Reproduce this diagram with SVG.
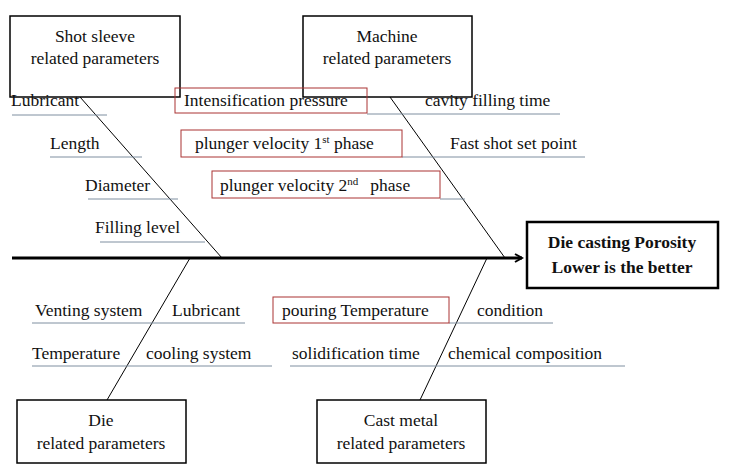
<svg xmlns="http://www.w3.org/2000/svg" width="729" height="475" viewBox="0 0 729 475" font-family="'Liberation Serif', 'DejaVu Serif', serif">
<style>
text{font-family:'Liberation Serif','Times New Roman','DejaVu Serif',serif;font-size:17.5px;fill:#111}
.c{text-anchor:middle}
.box{fill:#fff;stroke:#000;stroke-width:1.5}
.red{fill:none;stroke:#a33;stroke-width:1}
.ul{stroke:#7f8fa0;stroke-width:1}
.sp{stroke:#000;stroke-width:1;fill:none}
</style>
<defs><marker id="ah" markerWidth="10" markerHeight="10" refX="8" refY="5" orient="auto" markerUnits="userSpaceOnUse"><path d="M1,1 L8,5 L1,9" fill="none" stroke="#000" stroke-width="2"/></marker></defs>
<rect width="729" height="475" fill="#fff"/>
<g id="connectors">
<line x1="12" y1="258" x2="522" y2="258" stroke="#000" stroke-width="3" marker-end="url(#ah)"/>
<line class="sp" x1="80" y1="97" x2="222" y2="258"/>
<line class="sp" x1="390" y1="97" x2="505" y2="258"/>
<line class="sp" x1="190" y1="258" x2="107" y2="400"/>
<line class="sp" x1="487" y1="258" x2="420" y2="400"/>
<g class="ul">
<line x1="12" y1="115" x2="107" y2="115"/>
<line x1="50" y1="157" x2="142" y2="157"/>
<line x1="88" y1="199" x2="178" y2="199"/>
<line x1="100" y1="242" x2="205" y2="242"/>
<line x1="367" y1="114" x2="560" y2="114"/>
<line x1="402" y1="157" x2="585" y2="157"/>
<line x1="440" y1="199" x2="465" y2="199"/>
<line x1="32" y1="323" x2="245" y2="323"/>
<line x1="449" y1="323" x2="553" y2="323"/>
<line x1="32" y1="366" x2="272" y2="366"/>
<line x1="290" y1="366" x2="625" y2="366"/>
</g>
</g>
<g id="shot"><rect class="box" x="10" y="16" width="170" height="81"/><text class="c" x="95" y="42">Shot sleeve</text><text class="c" x="95" y="64">related parameters</text></g>
<g id="machine"><rect class="box" x="303" y="16" width="169" height="81"/><text class="c" x="387" y="42">Machine</text><text class="c" x="387" y="64">related parameters</text></g>
<g id="effect"><rect x="527" y="222" width="191" height="66" fill="#fff" stroke="#000" stroke-width="2.5"/><text class="c" x="622" y="248" font-weight="bold">Die casting Porosity</text><text class="c" x="622" y="273" font-weight="bold">Lower is the better</text></g>
<g id="die"><rect class="box" x="17" y="400" width="169" height="63"/><text class="c" x="101" y="426">Die</text><text class="c" x="101" y="449">related parameters</text></g>
<g id="cast"><rect class="box" x="317" y="400" width="169" height="63"/><text class="c" x="401" y="426">Cast metal</text><text class="c" x="401" y="449">related parameters</text></g>
<g id="causes">
<text x="11" y="106">Lubricant</text>
<text x="50" y="149">Length</text>
<text x="85" y="191">Diameter</text>
<text x="95" y="233">Filling level</text>
<rect class="red" x="175" y="88" width="192" height="25"/><text x="184" y="106">Intensification pressure</text>
<rect class="red" x="181" y="130" width="221" height="27"/><text x="195" y="149">plunger velocity 1<tspan font-size="11" dy="-6">st</tspan><tspan dy="6"> phase</tspan></text>
<rect class="red" x="212" y="171" width="228" height="27"/><text x="220" y="191">plunger velocity 2<tspan font-size="11" dy="-6">nd</tspan><tspan dy="6" dx="12">phase</tspan></text>
<text x="425" y="106">cavity filling time</text>
<text x="450" y="149">Fast shot set point</text>
<text x="35" y="316">Venting system</text>
<text x="172" y="316">Lubricant</text>
<rect class="red" x="273" y="297" width="176" height="26"/><text x="282" y="316">pouring Temperature</text>
<text x="477" y="316">condition</text>
<text x="32" y="359">Temperature</text>
<text x="146" y="359">cooling system</text>
<text x="292" y="359">solidification time</text>
<text x="448" y="359">chemical composition</text>
</g>
</svg>
